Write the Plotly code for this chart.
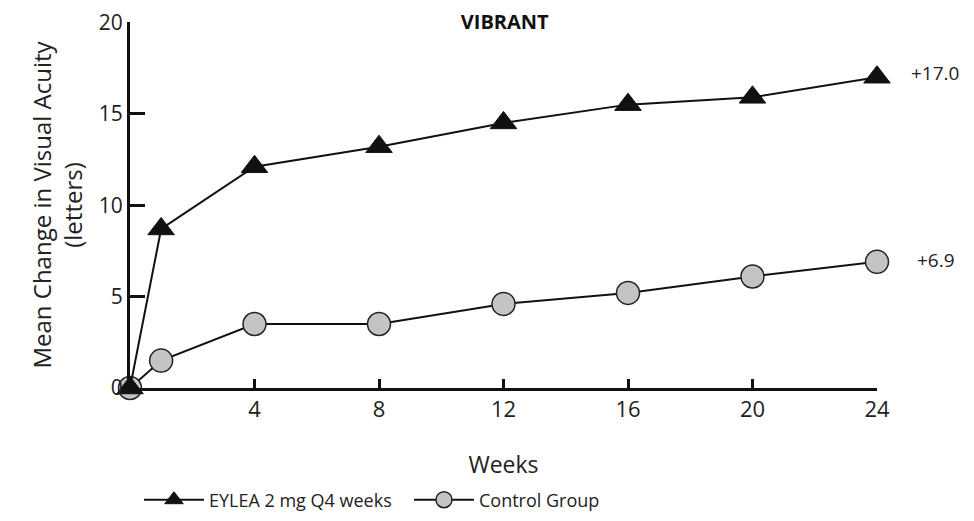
import plotly.graph_objects as go

weeks = [0, 1, 4, 8, 12, 16, 20, 24]
eylea = [0, 8.7, 12.1, 13.2, 14.5, 15.5, 15.9, 17.0]
control = [0, 1.5, 3.5, 3.5, 4.6, 5.2, 6.1, 6.9]
x_ticks = [4, 8, 12, 16, 20, 24]
y_ticks = [0, 5, 10, 15, 20]
end_labels = ["+17.0", "+6.9"]

FONT = "Open Sans"
TXT = "#222222"

fig = go.Figure()
fig.add_trace(go.Scatter(
    x=weeks, y=control, mode="lines+markers", name="Control Group",
    line=dict(color="#111111", width=2),
    marker=dict(symbol="circle", size=23, color="#c4c4c4",
                line=dict(color="#222222", width=1.5)),
    cliponaxis=False, legendrank=2,
))
fig.add_trace(go.Scatter(
    x=weeks, y=eylea, mode="lines+markers", name="EYLEA 2 mg Q4 weeks",
    line=dict(color="#111111", width=2),
    marker=dict(symbol="triangle-up", size=23, color="#111111",
                line=dict(color="#111111", width=1)),
    cliponaxis=False, legendrank=1,
))

fig.add_annotation(x=weeks[-1], y=eylea[-1], text=end_labels[0], showarrow=False,
                   xanchor="left", xshift=32, yshift=4,
                   font=dict(family=FONT, size=19, color=TXT))
fig.add_annotation(x=weeks[-1], y=control[-1], text=end_labels[1], showarrow=False,
                   xanchor="left", xshift=38, yshift=2,
                   font=dict(family=FONT, size=19, color=TXT))

fig.update_layout(
    width=974, height=521,
    margin=dict(l=122, r=105, t=14, b=141, autoexpand=False),
    paper_bgcolor="white", plot_bgcolor="white",
    font=dict(family=FONT, color=TXT),
    title=dict(text="<b>VIBRANT</b>", x=0.51, xanchor="center", y=0.973,
               yanchor="middle", font=dict(family=FONT, size=20, color="#111")),
    showlegend=True,
    legend=dict(orientation="h", x=0.012, xanchor="left", y=-0.306, yanchor="middle",
                font=dict(family=FONT, size=18, color=TXT), itemwidth=60,
                traceorder="normal", entrywidth=195),
    xaxis=dict(range=[0, 24], tickvals=x_ticks, ticks="inside", ticklen=9,
               tickwidth=2.5, tickcolor="#111", showline=True, linecolor="#111",
               linewidth=3, showgrid=False, zeroline=False,
               tickfont=dict(family=FONT, size=22, color=TXT),
               title=dict(text="Weeks", font=dict(family=FONT, size=23, color=TXT),
                          standoff=35)),
    yaxis=dict(range=[0, 20.02], tickvals=y_ticks, ticks="inside", ticklen=15,
               tickwidth=3, tickcolor="#111", showline=True, linecolor="#111",
               linewidth=3, showgrid=False, zeroline=False, ticksuffix=" ",
               ticklabeloverflow="allow",
               tickfont=dict(family=FONT, size=21, color=TXT),
               title=dict(text="Mean Change in Visual Acuity<br>(letters)",
                          font=dict(family=FONT, size=24, color=TXT), standoff=10)),
)

fig.write_html("out.html")
